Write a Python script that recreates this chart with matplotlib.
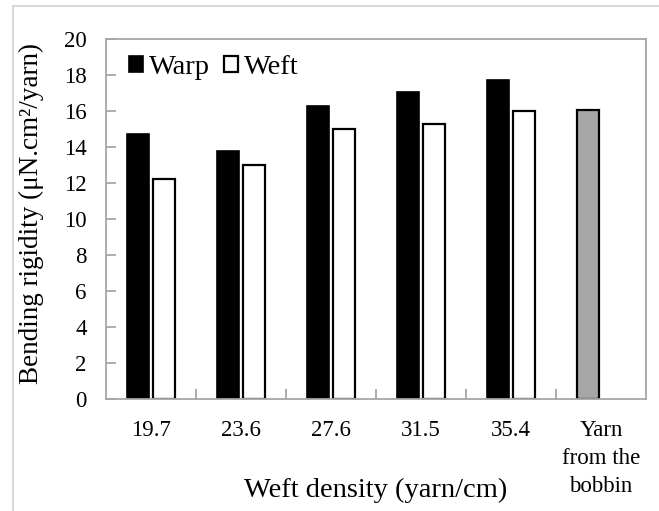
import matplotlib.pyplot as plt
from matplotlib.lines import Line2D
import numpy as np

plt.rcParams['font.family'] = ['Liberation Serif', 'DejaVu Serif']

categories = ['19.7', '23.6', '27.6', '31.5', '35.4', 'Yarn\nfrom the\nbobbin']
warp = [14.7, 13.8, 16.3, 17.05, 17.7]
weft = [12.2, 13.0, 15.0, 15.3, 16.0]
yarn = [16.05]

frame_col = '#A6A6A6'
bw = 0.244
off = 0.14

fig = plt.figure(figsize=(6.59, 5.11), dpi=100)
ax = fig.add_axes([106/659, 112/511, 540/659, 360/511])

x = np.arange(len(categories))
nd = len(warp)
ax.bar(x[:nd] - off, warp, bw, color='black', edgecolor='black', linewidth=1.2, label='Warp')
ax.bar(x[:nd] + off, weft, bw, color='white', edgecolor='black', linewidth=1.6, label='Weft')
ax.bar(x[nd:] - off, yarn, bw, color='#A6A6A6', edgecolor='black', linewidth=1.6)

ax.set_xlim(-0.5, len(categories) - 0.5)
ax.set_ylim(0, 20)
ax.set_yticks(np.arange(0, 21, 2))
ax.set_xticks(x)
ax.set_xticklabels(categories)
ax.set_xticks(np.arange(0.5, len(categories) - 0.5, 1), minor=True)

for s in ax.spines.values():
    s.set_color(frame_col)
    s.set_linewidth(1.3)

ax.tick_params(axis='y', direction='in', length=7, width=1.3, color=frame_col,
               labelsize=16.5, pad=14)
ax.tick_params(axis='x', which='major', length=0, labelsize=16.5, pad=15)
ax.tick_params(axis='x', which='minor', direction='in', length=7, width=1.3,
               color=frame_col)
for lab in ax.get_xticklabels():
    lab.set_linespacing(1.45)

ax.set_xlabel('Weft density (yarn/cm)', fontsize=20.5)
ax.set_ylabel('Bending rigidity (\u03bcN.cm\u00b2/yarn)', fontsize=19.5)
ax.xaxis.set_label_coords(0.5, -0.219)
ax.yaxis.set_label_coords(-0.115, 0.514)

ax.legend(loc='upper left', bbox_to_anchor=(0.042, 0.955), frameon=False,
          fontsize=20.5, ncol=2, handlelength=0.49, handleheight=0.49,
          handletextpad=0.22, columnspacing=0.5, borderpad=0, borderaxespad=0)

# outer chart border
fig.add_artist(Line2D([13/659, 13/659], [0, 1 - 6/511], transform=fig.transFigure,
                      color='#D9D9D9', linewidth=1.5))
fig.add_artist(Line2D([13/659, 1], [1 - 6/511, 1 - 6/511], transform=fig.transFigure,
                      color='#D9D9D9', linewidth=1.5))

fig.savefig('out.png', dpi=100)
